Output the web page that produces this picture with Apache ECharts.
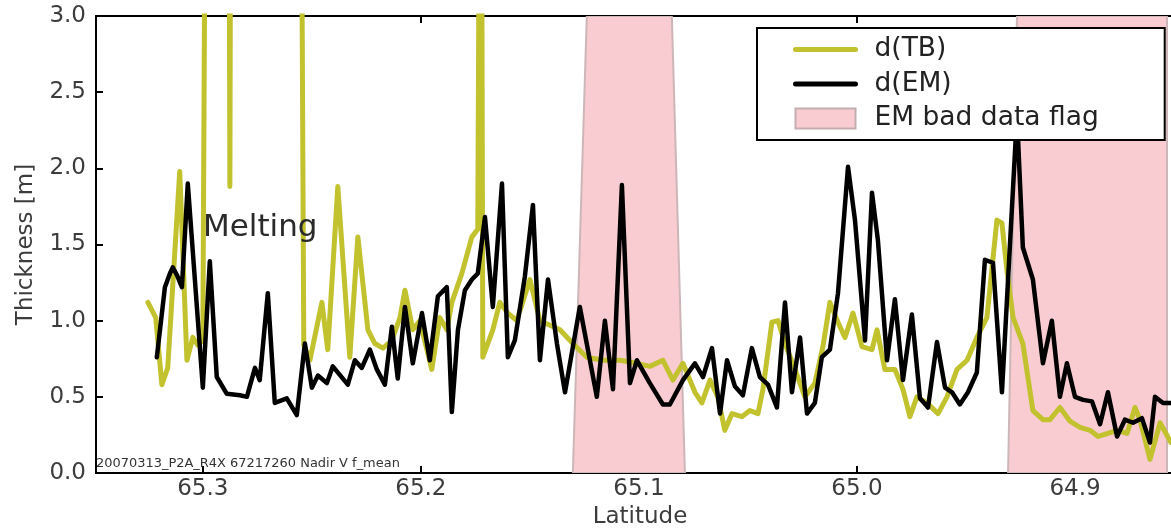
<!DOCTYPE html>
<html>
<head>
<meta charset="utf-8">
<script src="https://cdn.jsdelivr.net/npm/echarts@6/dist/echarts.min.js"></script>
<style>
html,body{margin:0;padding:0;background:#fff;}
#chart{width:1171px;height:530px;}
</style>
</head>
<body>
<div id="chart"></div>
<script>
// ---- data (latitude in degrees N, thickness in m) ----
const xTickValues = [65.3, 65.2, 65.1, 65.0, 64.9];

const tbLat = [65.3252,65.3216,65.3188,65.3161,65.3106,65.3073,65.3046,65.3023,65.3000,65.2982,65.2883,65.2876,65.2869,65.2555,65.2537,65.2509,65.2454,65.2427,65.2381,65.2326,65.2289,65.2243,65.2211,65.2174,65.2133,65.2096,65.2073,65.2037,65.2005,65.1950,65.1913,65.1881,65.1858,65.1812,65.1766,65.1739,65.1725,65.1716,65.1670,65.1638,65.1601,65.1560,65.1500,65.1454,65.1362,65.1303,65.1239,65.1165,65.1087,65.1009,65.0950,65.0890,65.0844,65.0798,65.0743,65.0711,65.0674,65.0638,65.0606,65.0573,65.0528,65.0491,65.0454,65.0431,65.0390,65.0362,65.0330,65.0284,65.0239,65.0193,65.0156,65.0124,65.0087,65.0055,65.0018,64.9977,64.9931,64.9908,64.9872,64.9826,64.9789,64.9757,64.9725,64.9679,64.9628,64.9587,64.9541,64.9495,64.9450,64.9404,64.9358,64.9335,64.9312,64.9284,64.9239,64.9193,64.9147,64.9115,64.9069,64.9023,64.8977,64.8931,64.8894,64.8849,64.8807,64.8761,64.8725,64.8702,64.8656,64.8610,64.8560,64.8510];
const tbVal = [1.12,1.02,0.58,0.69,1.98,0.74,0.89,0.84,0.87,6.0,6.0,1.88,6.0,6.0,0.84,0.74,1.12,0.81,1.88,0.76,1.55,0.94,0.85,0.82,0.87,1.02,1.20,0.94,1.00,0.68,1.02,0.94,1.12,1.31,1.55,1.60,6.0,0.76,0.94,1.12,1.05,1.00,1.27,1.00,0.94,0.85,0.76,0.74,0.74,0.72,0.70,0.74,0.61,0.72,0.53,0.46,0.61,0.50,0.28,0.39,0.37,0.41,0.39,0.55,0.99,1.00,0.85,0.68,0.50,0.59,0.83,1.12,0.99,0.89,1.05,0.83,0.81,0.94,0.68,0.68,0.55,0.37,0.50,0.46,0.39,0.50,0.68,0.74,0.89,1.02,1.66,1.64,1.33,1.02,0.85,0.41,0.35,0.35,0.43,0.34,0.30,0.28,0.24,0.26,0.28,0.26,0.43,0.35,0.09,0.33,0.20,0.18];

const emLat = [65.3211,65.3174,65.3151,65.3138,65.3119,65.3096,65.3069,65.3000,65.2968,65.2936,65.2890,65.2830,65.2798,65.2761,65.2739,65.2702,65.2670,65.2615,65.2569,65.2532,65.2500,65.2472,65.2431,65.2404,65.2335,65.2303,65.2271,65.2234,65.2202,65.2165,65.2133,65.2106,65.2073,65.2037,65.1995,65.1959,65.1922,65.1881,65.1858,65.1830,65.1798,65.1766,65.1739,65.1706,65.1670,65.1628,65.1601,65.1569,65.1523,65.1486,65.1454,65.1417,65.1376,65.1339,65.1271,65.1193,65.1156,65.1119,65.1078,65.1041,65.1009,65.0950,65.0890,65.0858,65.0798,65.0743,65.0706,65.0665,65.0628,65.0596,65.0560,65.0523,65.0482,65.0445,65.0408,65.0367,65.0330,65.0298,65.0261,65.0229,65.0193,65.0161,65.0124,65.0087,65.0041,65.0009,64.9963,64.9931,64.9904,64.9862,64.9826,64.9789,64.9748,64.9711,64.9674,64.9633,64.9596,64.9564,64.9528,64.9491,64.9450,64.9413,64.9376,64.9335,64.9266,64.9239,64.9193,64.9147,64.9106,64.9069,64.9037,64.9000,64.8963,64.8922,64.8885,64.8849,64.8807,64.8771,64.8734,64.8693,64.8656,64.8633,64.8596,64.8560,64.8500];
const emVal = [0.76,1.22,1.31,1.35,1.30,1.22,1.90,0.56,1.39,0.63,0.52,0.51,0.50,0.69,0.61,1.18,0.46,0.49,0.38,0.85,0.56,0.64,0.59,0.70,0.58,0.74,0.69,0.81,0.68,0.58,0.96,0.62,1.09,0.72,1.05,0.74,1.16,1.22,0.40,0.94,1.20,1.27,1.31,1.68,1.09,1.90,0.76,0.87,1.29,1.76,0.74,1.27,0.85,0.53,1.09,0.50,1.00,0.55,1.89,0.59,0.74,0.59,0.45,0.45,0.61,0.72,0.63,0.82,0.39,0.74,0.57,0.51,0.82,0.63,0.58,0.43,1.12,0.53,0.89,0.39,0.46,0.76,0.81,1.18,2.01,1.66,0.87,1.84,1.53,0.74,1.14,0.61,1.04,0.49,0.43,0.86,0.56,0.53,0.45,0.53,0.66,1.40,1.38,0.53,2.35,1.48,1.27,0.72,1.00,0.50,0.72,0.50,0.48,0.47,0.32,0.53,0.24,0.35,0.33,0.36,0.20,0.50,0.46,0.46,0.45];

// EM bad data flag bands (latitude of the band edges at bottom / top of the axes)
const flagNorthBottom = [65.1303, 64.9307];
const flagNorthTop    = [65.1239, 64.9266];
const flagSouthTop    = [65.0849, 64.8578];
const flagSouthBottom = [65.0789, 64.8578];

const yMin = 0, yMax = 3, yStep = 0.5;
const xMin = 64.85, xMax = 65.349;

// ---- chart ----
const FONT = 'DejaVu Sans';
const chart = echarts.init(document.getElementById('chart'), null, {renderer: 'canvas'});

const bandData = flagNorthBottom.map((v, i) => [v, flagNorthTop[i], flagSouthTop[i], flagSouthBottom[i]]);
const tickStyle = {color: '#000', width: 2};

const option = {
  animation: false,
  backgroundColor: '#ffffff',
  grid: {
    left: 96, top: 16, width: 1088, height: 457,
    containLabel: false, outerBoundsMode: 'none',
    show: true, borderColor: '#000', borderWidth: 2, backgroundColor: 'transparent'
  },
  legend: {
    orient: 'vertical',
    left: 757, top: 28, z: 20,
    padding: [8, 66, 8, 36],
    itemWidth: 60, itemHeight: 20, itemGap: 7.5,
    backgroundColor: '#fff',
    borderColor: '#000', borderWidth: 2, borderRadius: 0,
    textStyle: {fontFamily: FONT, fontSize: 26.5, color: '#222', lineHeight: 26, padding: [0, 0, 0, 14]},
    data: [
      {name: 'd(TB)', itemStyle: {opacity: 0}, lineStyle: {width: 5, color: '#c2c12e'}},
      {name: 'd(EM)', itemStyle: {opacity: 0}, lineStyle: {width: 5, color: '#000'}},
      {name: 'EM bad data flag', icon: 'rect'}
    ],
    selectedMode: false
  },
  xAxis: [
    {
      type: 'value', position: 'bottom', inverse: true, min: xMin, max: xMax,
      axisLine: {show: false},
      splitLine: {show: false},
      axisTick: {show: true, inside: true, length: 7, lineStyle: tickStyle, customValues: xTickValues},
      axisLabel: {show: true, customValues: xTickValues, margin: 5, fontFamily: FONT, fontSize: 23, color: '#3c3c3c',
        formatter: v => Number(v).toFixed(1)},
      name: 'Latitude', nameLocation: 'middle', nameGap: 31,
      nameTextStyle: {fontFamily: FONT, fontSize: 23, color: '#3c3c3c'}
    },
    {
      type: 'value', position: 'top', inverse: true, min: xMin, max: xMax,
      axisLine: {show: false}, splitLine: {show: false},
      axisTick: {show: true, inside: true, length: 7, lineStyle: tickStyle, customValues: xTickValues},
      axisLabel: {show: false}
    }
  ],
  yAxis: [{
    type: 'value', min: yMin, max: yMax, interval: yStep,
    axisLine: {show: false}, splitLine: {show: false},
    axisTick: {show: true, inside: true, length: 7, lineStyle: tickStyle},
    axisLabel: {margin: 10, fontFamily: FONT, fontSize: 23, color: '#3c3c3c', formatter: v => Number(v).toFixed(1)},
    name: 'Thickness [m]', nameLocation: 'middle', nameGap: 58, nameRotate: 90,
    nameTextStyle: {fontFamily: FONT, fontSize: 23, color: '#3c3c3c'}
  }],
  series: [
    {
      name: 'EM bad data flag',
      type: 'custom',
      xAxisIndex: 0, yAxisIndex: 0,
      clip: true,
      z: 1,
      itemStyle: {color: '#f8ccd0', borderColor: '#c4adaf', borderWidth: 2},
      data: bandData,
      renderItem: function (params, api) {
        const pts = [
          api.coord([api.value(0), yMin]),
          api.coord([api.value(1), yMax]),
          api.coord([api.value(2), yMax]),
          api.coord([api.value(3), yMin])
        ];
        return {type: 'polygon', shape: {points: pts},
          style: {fill: '#f8ccd0', stroke: '#cdb6b8', lineWidth: 2}};
      }
    },
    {
      name: 'd(TB)', type: 'line', xAxisIndex: 0, yAxisIndex: 0,
      showSymbol: false, symbol: 'none', clip: true, z: 2,
      color: '#c2c12e',
      lineStyle: {color: '#c2c12e', width: 5, join: 'round', cap: 'round'},
      data: tbLat.map((l, i) => [l, tbVal[i]])
    },
    {
      name: 'd(EM)', type: 'line', xAxisIndex: 0, yAxisIndex: 0,
      showSymbol: false, symbol: 'none', clip: true, z: 3,
      color: '#000',
      lineStyle: {color: '#000', width: 4.5, join: 'round', cap: 'round'},
      data: emLat.map((l, i) => [l, emVal[i]])
    }
  ],
  graphic: [
    {
      type: 'text', left: 203, top: 212, z: 10,
      style: {text: 'Melting', fontFamily: FONT, fontSize: 31, fill: '#2a2a2a'}
    },
    {
      type: 'text', x: 96, y: 458, z: 10, scaleX: 1.08,
      style: {text: '20070313_P2A_R4X 67217260 Nadir V f_mean', fontFamily: FONT, fontSize: 12, fill: '#333'}
    }
  ]
};
chart.setOption(option);
</script>
</body>
</html>
